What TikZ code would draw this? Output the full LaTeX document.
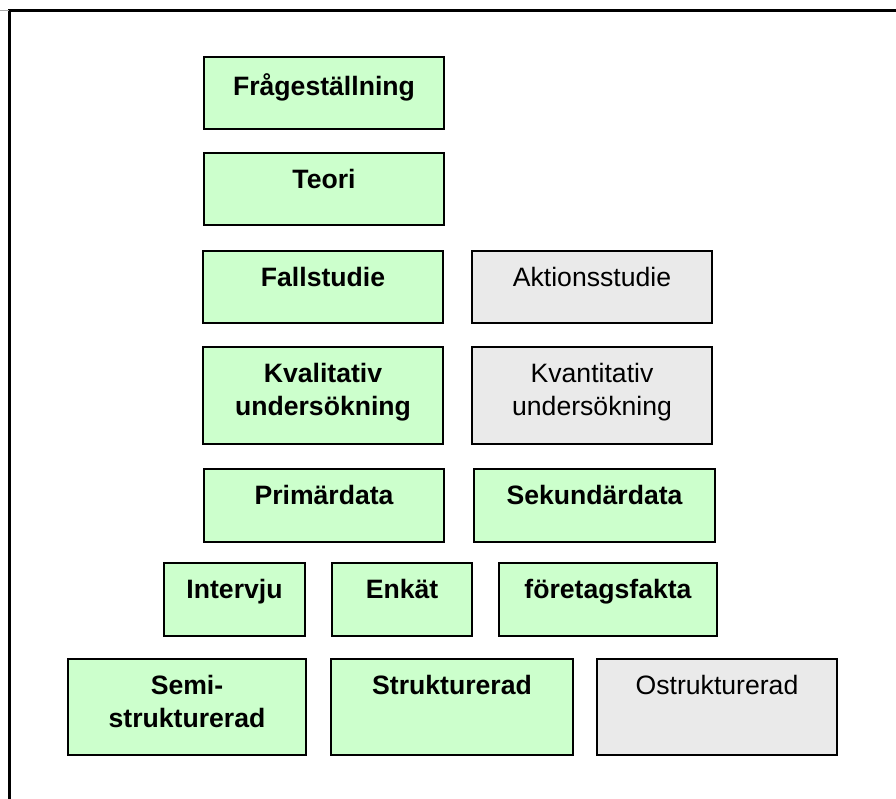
\documentclass[tikz,border=0pt]{standalone}
\usepackage{fontspec}
\setmainfont{Liberation Sans}
\definecolor{boxgreen}{HTML}{CCFFCC}
\definecolor{boxgray}{HTML}{EAEAEA}
\tikzset{
  card/.style={draw=black, line width=1.9pt, inner sep=0pt, outer sep=0pt, anchor=north west},
  gcard/.style={card, fill=boxgreen},
  ycard/.style={card, fill=boxgray},
  boldtext/.style={anchor=north, inner sep=0pt, align=center, font=\fontsize{26.6}{32.5}\selectfont\bfseries},
  plaintext/.style={anchor=north, inner sep=0pt, align=center, font=\fontsize{26.6}{32.5}\selectfont},
  frameline/.style={draw=black, line width=2.4pt},
}
\newcommand\cardbox[8]{%
  \node[#2, minimum width={#5-#3}, minimum height={#6-#4}] (#1) at (#3,#4) {};
  \node[#7] (#1-t) at ([yshift=-16.5pt]#1.north) {#8};
}
\begin{document}
\begin{tikzpicture}[x=1pt, y=-1pt]
\useasboundingbox (0,0) rectangle (896,799);
% outer frame (top and left only)
\coordinate (fbl) at (9.5,799);
\coordinate (ftl) at (9.5,10.5);
\coordinate (ftr) at (896,10.5);
\draw[frameline] (fbl) -- (ftl) -- (ftr);
\coordinate (stubA) at (0,11);
\coordinate (stubB) at (8.5,11);
\draw[gray!70, line width=1pt] (stubA) -- (stubB);
% boxes
\cardbox{frage}{gcard}{204}{57}{444}{129}{boldtext}{Frågeställning}
\cardbox{teori}{gcard}{204}{153}{444}{225}{boldtext}{Teori}
\cardbox{fall}{gcard}{203}{251}{443}{323}{boldtext}{Fallstudie}
\cardbox{akt}{ycard}{472}{251}{712}{323}{plaintext}{Aktionsstudie}
\cardbox{kval}{gcard}{203}{347}{443}{444}{boldtext}{Kvalitativ\\undersökning}
\cardbox{kvant}{ycard}{472}{347}{712}{444}{plaintext}{Kvantitativ\\undersökning}
\cardbox{prim}{gcard}{204}{469}{444}{542}{boldtext}{Primärdata}
\cardbox{sek}{gcard}{474}{469}{715}{542}{boldtext}{Sekundärdata}
\cardbox{interv}{gcard}{164}{563}{305}{636}{boldtext}{Intervju}
\cardbox{enkat}{gcard}{332}{563}{472}{636}{boldtext}{Enkät}
\cardbox{foret}{gcard}{499}{563}{717}{636}{boldtext}{företagsfakta}
\cardbox{semi}{gcard}{68}{659}{306}{755}{boldtext}{Semi-\\strukturerad}
\cardbox{strukt}{gcard}{331}{659}{573}{755}{boldtext}{Strukturerad}
\cardbox{ostr}{ycard}{597}{659}{837}{755}{plaintext}{Ostrukturerad}
\end{tikzpicture}
\end{document}
